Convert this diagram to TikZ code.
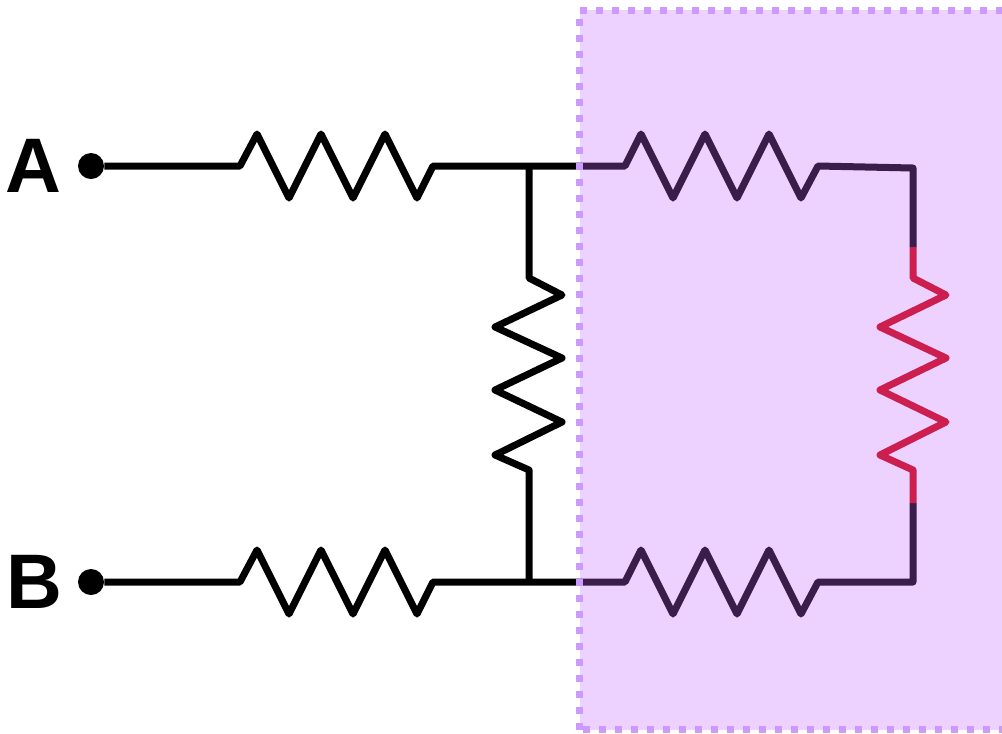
\documentclass[tikz,border=0pt]{standalone}
\usepackage{fontspec}
\setmainfont{Liberation Sans}
\definecolor{boxfill}{HTML}{EDD1FF}
\definecolor{boxline}{HTML}{CC99FF}
\definecolor{darkwire}{HTML}{3B1D4B}
\definecolor{redres}{HTML}{CC1F4F}
\begin{document}
\begin{tikzpicture}[x=0.75pt,y=-0.75pt,
  wire/.style={line width=5.25pt,line join=round,line cap=butt},
  term/.style={circle,fill=black,inner sep=0pt,minimum size=19.5pt},
  lbl/.style={font=\fontsize{58}{58}\selectfont\bfseries,inner sep=0pt},
  dotborder/.style={boxline,line width=5.25pt,dash pattern=on 5.25pt off 6.75pt}]
\useasboundingbox (0,0) rectangle (1002,733);
\clip (0,0) rectangle (1002,733);
% highlighted region fill
\fill[boxfill] (579.5,10) rectangle (1010,729.5);
% terminals and labels
\node[term] (ta) at (91,166) {};
\node[term] (tb) at (91,582) {};
\node[lbl] (la) at (33,166) {A};
\node[lbl] (lb) at (34,582) {B};
% coordinates
\coordinate (a1) at (240,166);
\coordinate (a2) at (433,166);
\coordinate (ja) at (529,166);
\coordinate (ea) at (579,166);
\coordinate (b1) at (240,582);
\coordinate (b2) at (433,582);
\coordinate (jb) at (529,582);
\coordinate (eb) at (579,582);
\coordinate (c1) at (625,166);
\coordinate (c2) at (818,166);
\coordinate (ca) at (913,168);
\coordinate (d1) at (625,582);
\coordinate (d2) at (818,582);
\coordinate (cb) at (913,582);
% left black part
\draw[wire] (ta) -- (a1) -- ++(17,-32) -- ++(32,64) -- ++(32,-64) -- ++(32,64) -- ++(32,-64) -- ++(32,64) -- (a2) -- (ea);
\draw[wire] (tb) -- (b1) -- ++(17,-32) -- ++(32,64) -- ++(32,-64) -- ++(32,64) -- ++(32,-64) -- ++(32,64) -- (b2) -- (eb);
\draw[wire] (ja) -- (529,278) -- ++(33,17) -- ++(-67,32) -- ++(67,31) -- ++(-67,32) -- ++(67,32) -- ++(-67,33) -- (529,470) -- (jb);
% right dark part
\draw[wire,darkwire] (ea) -- (c1) -- ++(16,-32) -- ++(32,64) -- ++(32,-64) -- ++(32,64) -- ++(32,-64) -- ++(32,64) -- (c2) -- (ca) -- (913,247);
\draw[wire,darkwire] (eb) -- (d1) -- ++(16,-32) -- ++(32,64) -- ++(32,-64) -- ++(32,64) -- ++(32,-64) -- ++(32,64) -- (d2) -- (cb) -- (913,503);
% red resistor
\draw[wire,redres] (913,247) -- (913,278) -- ++(33,17) -- ++(-66,32) -- ++(66,31) -- ++(-66,32) -- ++(66,32) -- ++(-66,33) -- (913,470) -- (913,503);
% dotted border on top
\draw[dotborder] (579.5,729.5) -- (579.5,10) -- (1010,10);
\draw[dotborder] (583,729.5) -- (1010,729.5);
\end{tikzpicture}
\end{document}
